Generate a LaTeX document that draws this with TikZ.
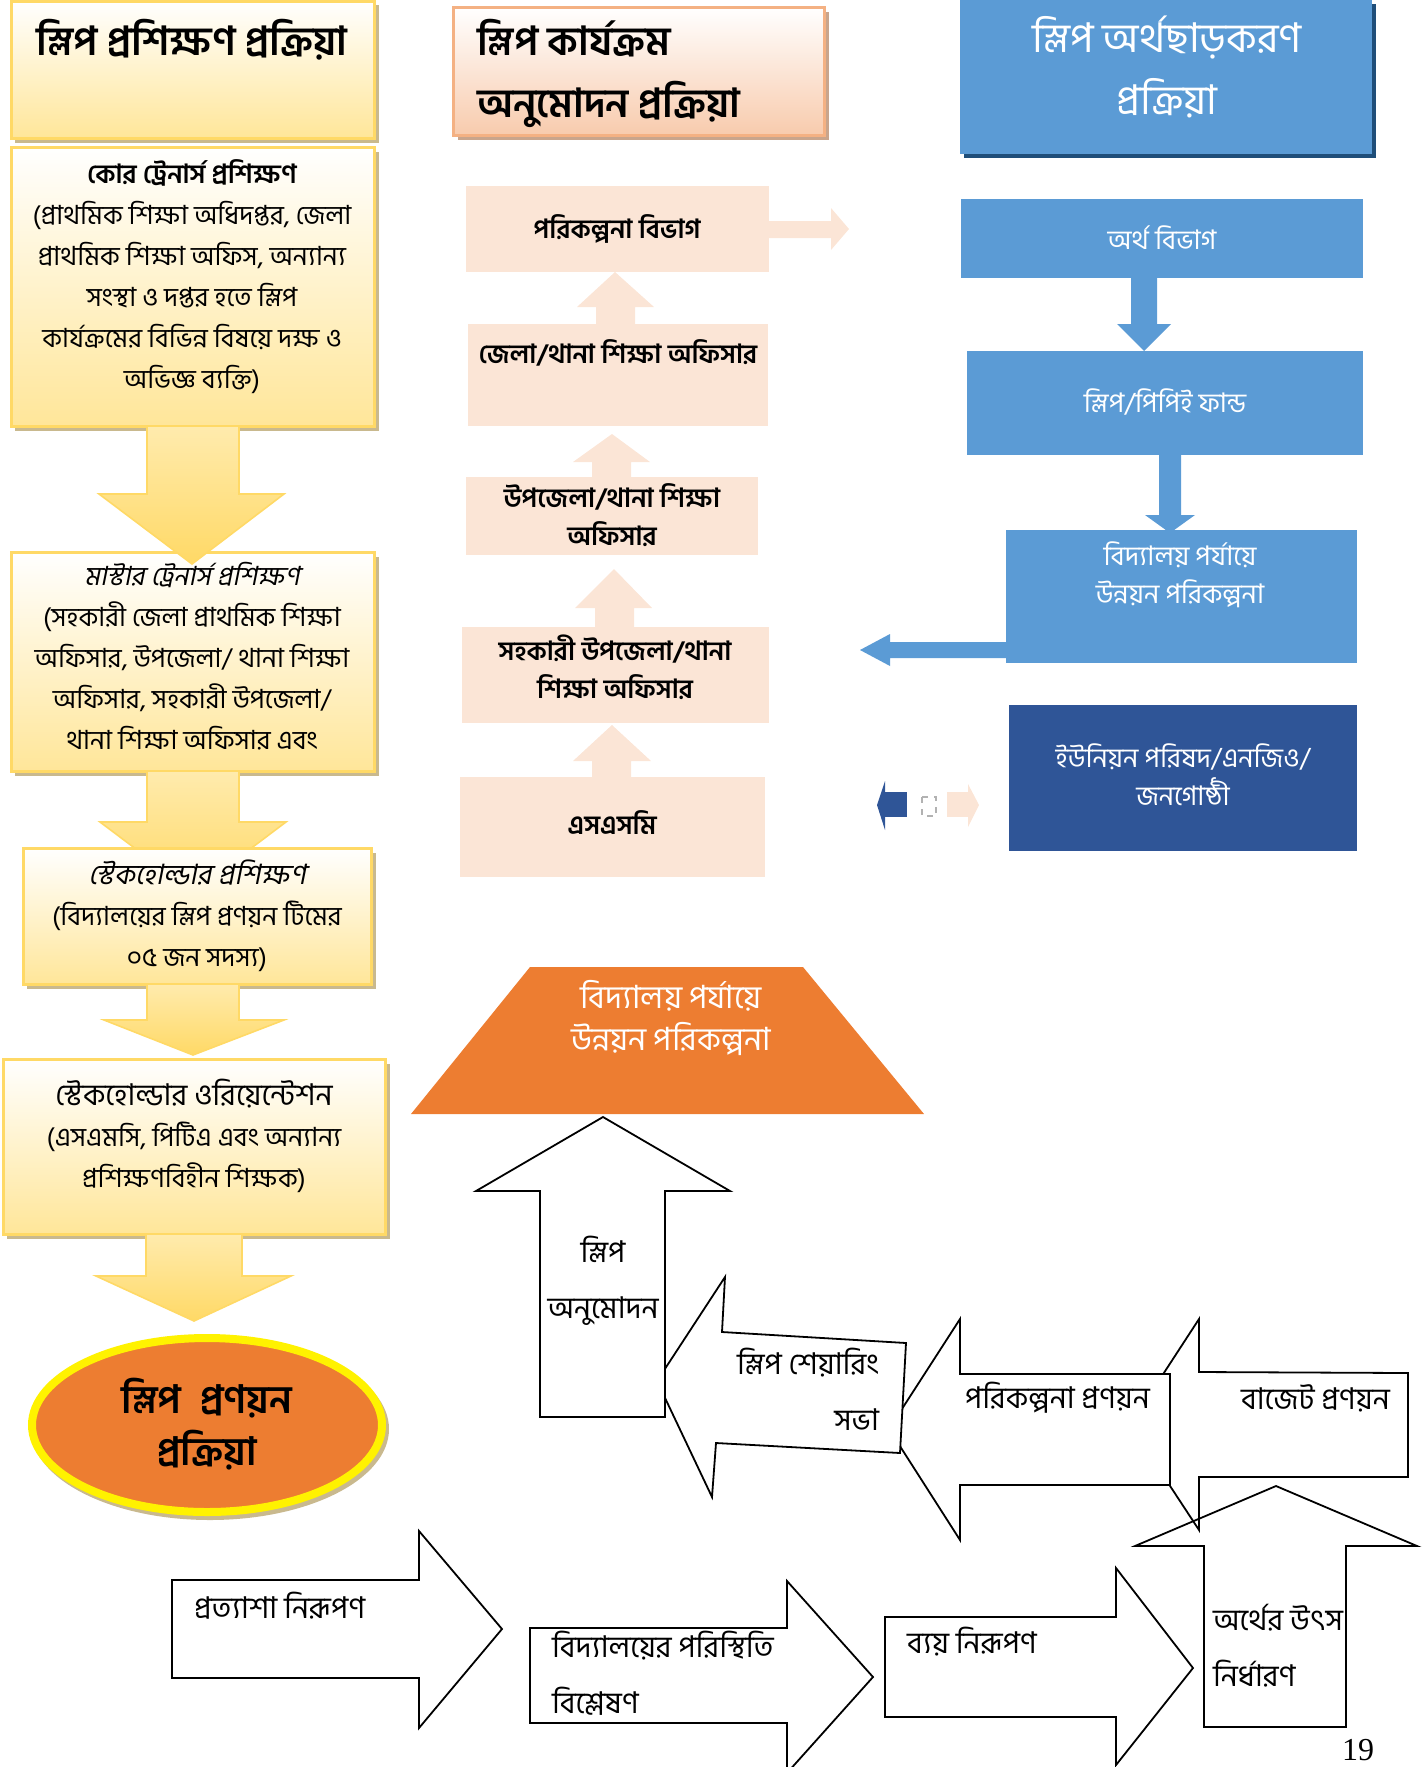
\documentclass[tikz,border=0pt]{standalone}
\usepackage{fontspec}
\setmainfont[Script=Bengali]{Hind Siliguri}
\newfontfamily\slantbn[Script=Bengali,FakeSlant=0.2]{Hind Siliguri}
\newfontfamily\pagenumfont{Liberation Serif}
\usepackage{tikz}

\definecolor{goldline}{HTML}{FFD966}
\definecolor{goldfill}{HTML}{FFE699}
\definecolor{shadowtan}{HTML}{C9B98E}
\definecolor{peach}{HTML}{FBE5D6}
\definecolor{peachline}{HTML}{F4B183}
\definecolor{peachdeep}{HTML}{F8CBAD}
\definecolor{shadowpeach}{HTML}{C9A58C}
\definecolor{skyblue}{HTML}{5B9BD5}
\definecolor{navyblue}{HTML}{2F5597}
\definecolor{deepblue}{HTML}{1F4E79}
\definecolor{burnt}{HTML}{ED7D31}

\begin{document}
\begin{tikzpicture}[x=0.5pt,y=-0.5pt,
    goldbox/.style={draw=goldline,line width=1.5pt,top color=white,bottom color=goldfill},
    goldarrow/.style={draw=goldline,line width=0.8pt,top color=goldfill!80!white,bottom color=goldline},
    tanshade/.style={fill=shadowtan},
    peachshape/.style={fill=peach},
    skyshape/.style={fill=skyblue},
    outlined/.style={draw=black,line width=0.9pt,fill=white},
    body/.style={align=center,font=\fontsize{13.2}{20.5}\selectfont},
    heading/.style={align=center,font=\fontsize{20}{31}\selectfont\bfseries},
    boxtext/.style={align=center,font=\fontsize{13.2}{19}\selectfont\bfseries},
    whitetext/.style={align=center,text=white,font=\fontsize{13.5}{19}\selectfont},
    steptext/.style={align=left,font=\fontsize{15}{28}\selectfont}]

	\useasboundingbox (0,0) rectangle (1426,1767);
	\clip (0,0) rectangle (1426,1767);

	% training column
	\fill[tanshade] (15,5) rectangle (379,143);
	\draw[goldbox] (11,1) rectangle (374,138);
	\node[heading] (trainhead) at (192,40) {স্লিপ প্রশিক্ষণ প্রক্রিয়া};

	\fill[tanshade] (15,152) rectangle (379,431);
	\draw[goldbox] (11,147) rectangle (374,426);
	\node[body] (coretrain) at (192,277) {{\bfseries কোর ট্রেনার্স প্রশিক্ষণ}\\(প্রাথমিক শিক্ষা অধিদপ্তর, জেলা\\প্রাথমিক শিক্ষা অফিস, অন্যান্য\\সংস্থা ও দপ্তর হতে স্লিপ\\কার্যক্রমের বিভিন্ন বিষয়ে দক্ষ ও\\অভিজ্ঞ ব্যক্তি)};

	\fill[tanshade] (15,557) rectangle (379,776);
	\draw[goldbox] (11,552) rectangle (374,771);
	\node[body] (mastertrain) at (192,656) {{\slantbn মাস্টার ট্রেনার্স প্রশিক্ষণ}\\(সহকারী জেলা প্রাথমিক শিক্ষা\\অফিসার, উপজেলা/ থানা শিক্ষা\\অফিসার, সহকারী উপজেলা/\\থানা শিক্ষা অফিসার এবং};

	\draw[goldarrow] (147,426) -- (239,426) -- (239,494) -- (284,494) -- (192,564) -- (99,494) -- (147,494) -- cycle;
	\draw[goldarrow] (147,771) -- (239,771) -- (239,822) -- (286,822) -- (193,892) -- (100,822) -- (147,822) -- cycle;

	\fill[tanshade] (27,853) rectangle (376,989);
	\draw[goldbox] (23,848) rectangle (371,984);
	\node[body] (holdertrain) at (197,916) {{\slantbn\fontsize{14}{20.5}\selectfont স্টেকহোল্ডার প্রশিক্ষণ}\\(বিদ্যালয়ের স্লিপ প্রণয়ন টিমের\\০৫ জন সদস্য)};

	\draw[goldarrow] (147,984) -- (239,984) -- (239,1020) -- (284,1020) -- (193,1055) -- (104,1020) -- (147,1020) -- cycle;

	\fill[tanshade] (7,1064) rectangle (390,1239);
	\draw[goldbox] (3,1059) rectangle (385,1234);
	\node[body] (holderorient) at (194,1136) {{\fontsize{15}{22}\selectfont স্টেকহোল্ডার ওরিয়েন্টেশন}\\(এসএমসি, পিটিএ এবং অন্যান্য\\প্রশিক্ষণবিহীন শিক্ষক)};

	\draw[goldarrow] (146,1234) -- (242,1234) -- (242,1276) -- (291,1276) -- (194,1321) -- (96,1276) -- (146,1276) -- cycle;

	\fill[shadowtan] (210,1429) ellipse[x radius=89.5pt,y radius=45.5pt];
	\draw[fill=burnt,draw=yellow,line width=4pt] (207,1425) ellipse[x radius=87.5pt,y radius=43.5pt];
	\node[heading,font=\fontsize{19.5}{26}\selectfont\bfseries] (makehead) at (207,1424) {স্লিপ~~প্রণয়ন\\প্রক্রিয়া};

	% approval column
	\fill[shadowpeach] (458,12) rectangle (829,140);
	\draw[draw=peachline,line width=1.5pt,top color=white,bottom color=peachdeep] (453,7) rectangle (824,135);
	\node[heading,align=left,anchor=west] (approvehead) at (470,73) {স্লিপ কার্যক্রম\\অনুমোদন প্রক্রিয়া};

	\fill[peachshape] (466,186) rectangle (769,272);
	\fill[peachshape] (468,324) rectangle (768,426);
	\fill[peachshape] (466,477) rectangle (758,555);
	\fill[peachshape] (462,627) rectangle (769,723);
	\fill[peachshape] (460,777) rectangle (765,877);

	\node[boxtext] (planning) at (617,229) {পরিকল্পনা বিভাগ};
	\node[boxtext] (district) at (618,353) {জেলা/থানা শিক্ষা অফিসার};
	\node[boxtext] (upazila) at (612,515) {উপজেলা/থানা শিক্ষা\\অফিসার};
	\node[boxtext] (assistant) at (615,667) {সহকারী উপজেলা/থানা\\শিক্ষা অফিসার};
	\node[boxtext] (smc) at (612,823) {এসএসমি};

	\fill[peachshape] (596,324) -- (596,307) -- (577,307) -- (615,272) -- (654,307) -- (635,307) -- (635,324) -- cycle;
	\fill[peachshape] (592,477) -- (592,462) -- (573,462) -- (612,434) -- (650,462) -- (631,462) -- (631,477) -- cycle;
	\fill[peachshape] (595,627) -- (595,608) -- (575,608) -- (614,569) -- (652,608) -- (634,608) -- (634,627) -- cycle;
	\fill[peachshape] (592,777) -- (592,761) -- (573,761) -- (612,725) -- (651,761) -- (631,761) -- (631,777) -- cycle;
	\fill[peachshape] (769,221) -- (831,221) -- (831,208) -- (849,229) -- (831,250) -- (831,238) -- (769,238) -- cycle;

	% fund release column
	\fill[deepblue] (964,4) rectangle (1376,158);
	\fill[skyshape] (960,0) rectangle (1372,154);
	\node[heading,text=white,font=\fontsize{20.5}{31}\selectfont] (fundhead) at (1167,67) {স্লিপ অর্থছাড়করণ\\প্রক্রিয়া};

	\fill[skyshape] (961,199) rectangle (1363,278);
	\fill[skyshape] (967,351) rectangle (1363,455);
	\fill[skyshape] (1006,530) rectangle (1357,663);
	\fill[navyblue] (1009,705) rectangle (1357,851);

	\node[whitetext] (finance) at (1162,238) {অর্থ বিভাগ};
	\node[whitetext] (fund) at (1165,402) {স্লিপ/পিপিই ফান্ড};
	\node[whitetext] (schoolplan) at (1180,575) {বিদ্যালয় পর্যায়ে\\উন্নয়ন পরিকল্পনা};
	\node[whitetext] (union) at (1183,775) {ইউনিয়ন পরিষদ/এনজিও/\\জনগোষ্ঠী};

	\fill[skyshape] (1131,278) -- (1157,278) -- (1157,324) -- (1171,324) -- (1144,351) -- (1117,324) -- (1131,324) -- cycle;
	\fill[skyshape] (1159,455) -- (1181,455) -- (1181,515) -- (1195,515) -- (1170,533) -- (1145,515) -- (1159,515) -- cycle;
	\fill[skyshape] (1006,642) -- (890,642) -- (890,634) -- (860,650) -- (890,666) -- (890,658) -- (1006,658) -- cycle;

	\fill[navyblue] (884,792) rectangle (907,817);
	\fill[navyblue] (885,781) -- (877,805) -- (885,830) -- cycle;
	\draw[gray!60,dashed,line width=1pt] (922,797) rectangle (936,816);
	\fill[peachshape] (947,792) rectangle (968,817);
	\fill[peachshape] (968,784) -- (979,805) -- (968,827) -- cycle;

	% preparation cycle
	\fill[burnt] (530,967) -- (803,967) -- (924,1114) -- (411,1114) -- cycle;
	\node[whitetext,font=\fontsize{16}{21}\selectfont] (trapplan) at (671,1018) {বিদ্যালয় পর্যায়ে\\উন্নয়ন পরিকল্পনা};

	\draw[outlined] (1130,1425) -- (1199,1319) -- (1199,1372) -- (1408,1373) -- (1408,1477) -- (1199,1477) -- (1199,1530) -- cycle;
	\draw[outlined,fill=none] (1276,1486) -- (1417,1546) -- (1346,1546) -- (1346,1727) -- (1204,1727) -- (1204,1546) -- (1135,1546) -- cycle;
	\draw[outlined] (889,1429) -- (960,1319) -- (960,1374) -- (1170,1374) -- (1170,1485) -- (960,1485) -- (960,1540) -- cycle;
	\draw[outlined] (657,1381) -- (725,1277) -- (722,1332) -- (906,1343) -- (900,1453) -- (716,1443) -- (712,1497) -- cycle;
	\draw[outlined] (603,1117) -- (730,1191) -- (665,1191) -- (665,1417) -- (540,1417) -- (540,1191) -- (476,1191) -- cycle;

	\draw[outlined] (172,1580) -- (419,1580) -- (419,1531) -- (502,1629) -- (419,1728) -- (419,1678) -- (172,1678) -- cycle;
	\draw[outlined] (530,1628) -- (787,1628) -- (787,1581) -- (873,1677) -- (787,1773) -- (787,1723) -- (530,1723) -- cycle;
	\draw[outlined] (885,1617) -- (1116,1617) -- (1116,1568) -- (1193,1668) -- (1116,1765) -- (1116,1717) -- (885,1717) -- cycle;

	\node[steptext,align=center] (approve) at (603,1281) {স্লিপ\\অনুমোদন};
	\node[steptext,align=right,anchor=east] (sharing) at (886,1389) {স্লিপ শেয়ারিং\\সভা};
	\node[steptext,anchor=west] (planmake) at (958,1398) {পরিকল্পনা প্রণয়ন};
	\node[steptext,anchor=west] (budget) at (1234,1398) {বাজেট প্রণয়ন};
	\node[steptext,anchor=west] (source) at (1206,1646) {অর্থের উৎস\\নির্ধারণ};
	\node[steptext,anchor=west] (expect) at (187,1606) {প্রত্যাশা নিরূপণ};
	\node[steptext,anchor=west] (situation) at (545,1673) {বিদ্যালয়ের পরিস্থিতি\\বিশ্লেষণ};
	\node[steptext,anchor=west] (cost) at (900,1642) {ব্যয় নিরূপণ};

	\node[font=\pagenumfont\fontsize{16}{18}\selectfont] (pagenum) at (1358,1750) {19};

\end{tikzpicture}
\end{document}
